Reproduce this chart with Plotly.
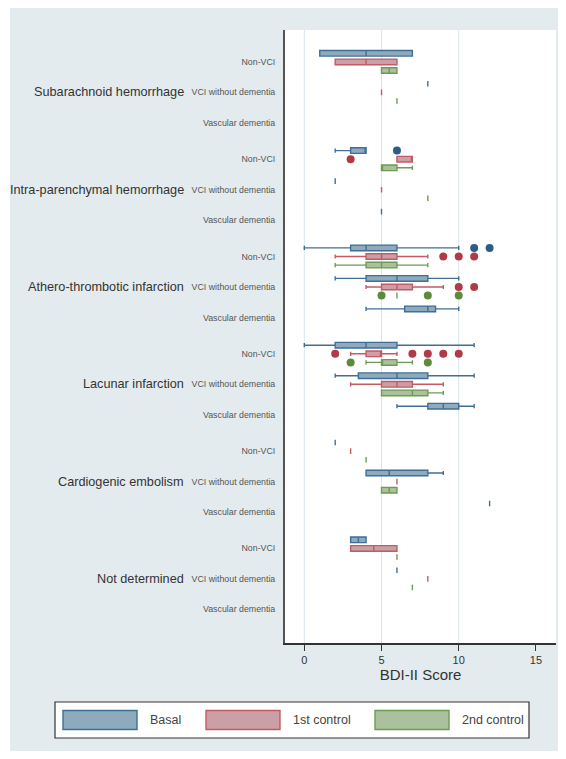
import plotly.graph_objects as go

# ---------------- data ----------------
GROUPS = ["Subarachnoid hemorrhage", "Intra-parenchymal hemorrhage", "Athero-thrombotic infarction",
          "Lacunar infarction", "Cardiogenic embolism", "Not determined"]
SUBCATS = ["Non-VCI", "VCI without dementia", "Vascular dementia"]
SERIES = ["Basal", "1st control", "2nd control"]
X_TICKS = [0, 5, 10, 15]
GRID_VALS = [0, 5, 10]
N = None

# rows: groups, columns: subcategories (None = no data)
basal_lo  = [[1, 8, N], [2, 2, 5], [0, 2, 4],   [0, 2, 6],   [2, 4, 12],   [3, 6, N]]
basal_q1  = [[1, 8, N], [3, 2, 5], [3, 4, 6.5], [2, 3.5, 8], [2, 4, 12],   [3, 6, N]]
basal_med = [[4, 8, N], [4, 2, 5], [4, 6, 8],   [4, 6, 9],   [2, 5.5, 12], [3.5, 6, N]]
basal_q3  = [[7, 8, N], [4, 2, 5], [6, 8, 8.5], [6, 8, 10],  [2, 8, 12],   [4, 6, N]]
basal_hi  = [[7, 8, N], [4, 2, 5], [10, 10, 10], [11, 11, 11], [2, 9, 12], [4, 6, N]]
basal_out = [[[], [], []], [[6], [], []], [[11, 12], [], []], [[], [], []], [[], [], []], [[], [], []]]

first_lo  = [[2, 5, N], [6, 5, N], [2, 4, N], [3, 3, N], [3, 6, N], [3, 8, N]]
first_q1  = [[2, 5, N], [6, 5, N], [4, 5, N], [4, 5, N], [3, 6, N], [3, 8, N]]
first_med = [[4, 5, N], [7, 5, N], [5, 6, N], [5, 6, N], [3, 6, N], [4.5, 8, N]]
first_q3  = [[6, 5, N], [7, 5, N], [6, 7, N], [5, 7, N], [3, 6, N], [6, 8, N]]
first_hi  = [[6, 5, N], [7, 5, N], [8, 9, N], [6, 9, N], [3, 6, N], [6, 8, N]]
first_out = [[[], [], []], [[3], [], []], [[9, 10, 11], [10, 11], []], [[2, 7, 8, 9, 10], [], []],
             [[], [], []], [[], [], []]]

second_lo  = [[5, 6, N], [5, 8, N], [2, 6, N], [4, 5, N], [4, 5, N], [6, 7, N]]
second_q1  = [[5, 6, N], [5, 8, N], [4, 6, N], [5, 5, N], [4, 5, N], [6, 7, N]]
second_med = [[5.5, 6, N], [5, 8, N], [5, 6, N], [5, 7, N], [4, 5.5, N], [6, 7, N]]
second_q3  = [[6, 6, N], [6, 8, N], [6, 6, N], [6, 8, N], [4, 6, N], [6, 7, N]]
second_hi  = [[6, 6, N], [7, 8, N], [8, 6, N], [7, 9, N], [4, 6, N], [6, 7, N]]
second_out = [[[], [], []], [[], [], []], [[], [5, 8, 10], []], [[3, 8], [], []], [[], [], []], [[], [], []]]

# ---------------- styling / layout ----------------
OFF = 8                      # default page (body) margin
W, H = 550, 743              # figure size (page 8..558, 8..751)
PL, PR, PT, PB = 285, 556, 30, 643  # plot area in page px
FONT = "Liberation Sans, Arial, sans-serif"
BG = "#e3ebee"

FILL = ["#8eaabd", "#caa0a6", "#abc19e"]
LINE = ["#3f6f96", "#c45a66", "#6e9b53"]
MARK = ["#2b5d8a", "#b03a48", "#5c8b3b"]

TOP_PAD, SUB_GAP, CAT_GAP, GROUP_GAP = 23.3, 8.6, 30.5, 97.3


def ypos(g, k, j):
    return TOP_PAD + g * GROUP_GAP + k * CAT_GAP + j * SUB_GAP


def px2x(px):
    return (px - PL) / (PR - PL)


def px2y(py):
    return (PB - py) / (PB - PT)


stats = [
    (basal_lo, basal_q1, basal_med, basal_q3, basal_hi, basal_out),
    (first_lo, first_q1, first_med, first_q3, first_hi, first_out),
    (second_lo, second_q1, second_med, second_q3, second_hi, second_out),
]

fig = go.Figure()
for j, (lo, q1, med, q3, hi, out) in enumerate(stats):
    ys, L, Q1, M, Q3, Hh = [], [], [], [], [], []
    oy, ox = [], []
    for g in range(len(GROUPS)):
        for k in range(len(SUBCATS)):
            if med[g][k] is None:
                continue
            ys.append(ypos(g, k, j))
            L.append(lo[g][k]); Q1.append(q1[g][k]); M.append(med[g][k])
            Q3.append(q3[g][k]); Hh.append(hi[g][k])
            for v in out[g][k]:
                ox.append(v); oy.append(ypos(g, k, j))
    fig.add_trace(go.Box(
        y=ys, q1=Q1, median=M, q3=Q3, lowerfence=L, upperfence=Hh,
        orientation="h", width=5.6, whiskerwidth=0.75, boxpoints=False,
        fillcolor=FILL[j], line=dict(color=LINE[j], width=1.4),
        name=SERIES[j], showlegend=False))
    if ox:
        fig.add_trace(go.Scatter(
            x=ox, y=oy, mode="markers", showlegend=False,
            marker=dict(color=MARK[j], size=8, symbol="circle", line=dict(width=0))))

shapes = []
# thin white strip at the far left of the page
shapes.append(dict(type="rect", xref="paper", yref="paper", x0=px2x(OFF), x1=px2x(10),
                   y0=px2y(OFF + H), y1=px2y(OFF), fillcolor="white", line=dict(width=0), layer="below"))
# gridlines
for v in GRID_VALS:
    shapes.append(dict(type="line", xref="x", yref="paper", x0=v, x1=v, y0=0, y1=1,
                       line=dict(color="#d9e5ea", width=1), layer="below"))
# legend box
shapes.append(dict(type="rect", xref="paper", yref="paper", x0=px2x(55), x1=px2x(529),
                   y0=px2y(738), y1=px2y(702), fillcolor="white", line=dict(color="#333333", width=1.2)))
annotations = []
sw_x = [63, 206, 375]
lab_x = [148, 291, 460]
for j in range(3):
    shapes.append(dict(type="rect", xref="paper", yref="paper", x0=px2x(sw_x[j]), x1=px2x(sw_x[j] + 74),
                       y0=px2y(729.5), y1=px2y(710.5), fillcolor=FILL[j], line=dict(color=LINE[j], width=1.4)))
    annotations.append(dict(xref="paper", yref="paper", x=px2x(lab_x[j]), y=px2y(719.5), text=SERIES[j],
                            showarrow=False, xanchor="left", yanchor="middle",
                            font=dict(family=FONT, size=12.5, color="#444444")))
# group labels
for g, name in enumerate(GROUPS):
    annotations.append(dict(xref="paper", yref="y", x=px2x(186), y=ypos(g, 1, 1), text=name,
                            showarrow=False, xanchor="right", yanchor="middle",
                            font=dict(family=FONT, size=12.7, color="#333333")))

tickvals, ticktext = [], []
for g in range(len(GROUPS)):
    for k, s in enumerate(SUBCATS):
        tickvals.append(ypos(g, k, 1))
        ticktext.append(s)

fig.update_layout(
    width=W, height=H, autosize=False,
    margin=dict(l=PL - OFF, r=W + OFF - PR, t=PT - OFF, b=H + OFF - PB, pad=0),
    paper_bgcolor=BG, plot_bgcolor="white",
    boxmode="overlay", showlegend=False,
    font=dict(family=FONT, color="#333333"),
    shapes=shapes, annotations=annotations,
    xaxis=dict(range=[-1.25, 16.3], tickvals=X_TICKS, ticks="outside", ticklen=6, tickwidth=1.2,
               tickcolor="#333333", showline=True, linecolor="#333333", linewidth=1.5,
               showgrid=False, zeroline=False, tickfont=dict(size=11, color="#333333"),
               title=dict(text="BDI-II Score", font=dict(size=15, color="#333333"), standoff=4)),
    yaxis=dict(range=[PB - PT, 0], tickvals=tickvals, ticktext=ticktext, ticks="",
               showline=True, linecolor="#555555", linewidth=2, showgrid=False, zeroline=False,
               tickfont=dict(size=8.8, color="#555555"), ticklabelstandoff=6),
)

fig.write_html("out.html")
